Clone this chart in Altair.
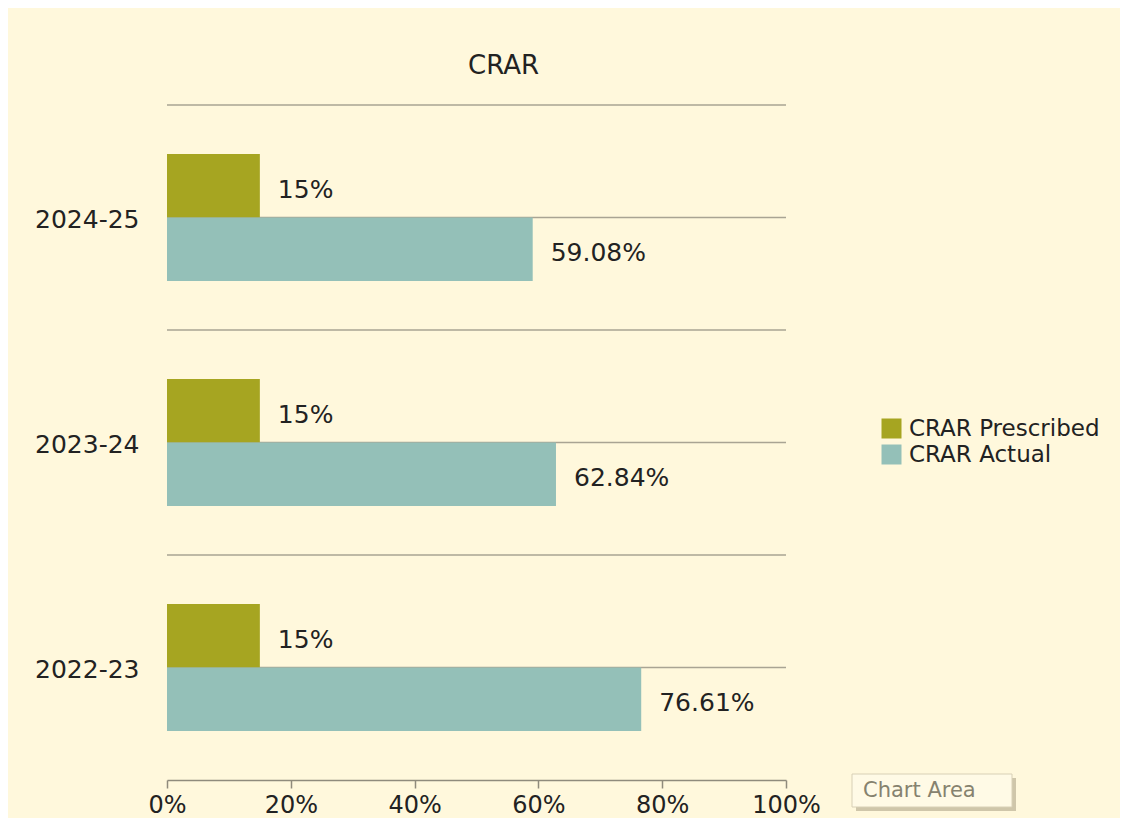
import altair as alt
import pandas as pd

# ---- data ----
years = ["2024-25", "2023-24", "2022-23"]
series = ["CRAR Prescribed", "CRAR Actual"]
prescribed = [15, 15, 15]
actual = [59.08, 62.84, 76.61]
x_ticks = [0, 20, 40, 60, 80, 100]
colors = ["#A6A521", "#94C0B8"]

rows = []
for y, p, a in zip(years, prescribed, actual):
    rows.append({"year": y, "series": series[0], "value": p, "label": f"{p:g}%"})
    rows.append({"year": y, "series": series[1], "value": a, "label": f"{a:g}%"})
df = pd.DataFrame(rows)
grid_df = pd.DataFrame({"year": years})

FONT = "DejaVu Sans"
FS = 25
GRID = "#A9A493"
BG = "#FFF8DC"
TXT = "#222222"

y_enc = alt.Y("year:N", sort=years, title=None,
              scale=alt.Scale(paddingInner=0, paddingOuter=0),
              axis=alt.Axis(domain=False, ticks=False, labelPadding=28,
                            labelFontSize=FS, labelColor=TXT,
                            labelFont=FONT, labelBaseline="middle", labelOffset=2))
yoff = alt.YOffset("series:N", sort=series,
                   scale=alt.Scale(paddingInner=0, paddingOuter=0.772))
x_enc = alt.X("value:Q", title=None,
              scale=alt.Scale(domain=[0, 100], nice=False),
              axis=alt.Axis(values=x_ticks, labelExpr="datum.value + '%'",
                            grid=False, domainColor="#8F8B7C", domainWidth=1.5,
                            tickColor="#8F8B7C", tickWidth=1.5, tickSize=8,
                            labelFlush=False, labelPadding=5, labelFontSize=24,
                            labelColor=TXT, labelFont=FONT))

grid_edges = alt.Chart(grid_df).mark_rule(color=GRID, strokeWidth=1.5).encode(
    y=alt.Y("year:N", sort=years, bandPosition=0)
)
grid_mid = alt.Chart(grid_df).mark_rule(color=GRID, strokeWidth=1.5).encode(
    y=alt.Y("year:N", sort=years, bandPosition=0.5)
)

bars = alt.Chart(df).mark_bar(opacity=1).encode(
    y=y_enc,
    yOffset=yoff,
    x=x_enc,
    color=alt.Color("series:N", sort=series,
                    scale=alt.Scale(domain=series, range=colors),
                    legend=alt.Legend(title=None, orient="none",
                                      legendX=713, legendY=312,
                                      symbolType="square", symbolSize=400,
                                      symbolStrokeWidth=0, labelFontSize=23,
                                      labelFont=FONT, labelColor=TXT,
                                      labelLimit=0,
                                      labelOffset=6, rowPadding=2, padding=0)),
)

labels = alt.Chart(df).mark_text(align="left", baseline="middle", dx=18, dy=4,
                                 fontSize=FS, font=FONT, color=TXT).encode(
    y=alt.Y("year:N", sort=years),
    yOffset=alt.YOffset("series:N", sort=series),
    x="value:Q",
    text="label:N",
)

tip_df = pd.DataFrame({"t": ["Chart Area"]})
tip_shadow = alt.Chart(tip_df).mark_rect(color="#CFC6AA").encode(
    x=alt.value(689), x2=alt.value(849), y=alt.value(673), y2=alt.value(706))
tip_box = alt.Chart(tip_df).mark_rect(fill="#FFFAE6", stroke="#D8D0B6",
                                      strokeWidth=1).encode(
    x=alt.value(685), x2=alt.value(845), y=alt.value(669), y2=alt.value(702))
tip_text = alt.Chart(tip_df).mark_text(align="left", baseline="middle",
                                       fontSize=21, font=FONT,
                                       color="#86826F").encode(
    x=alt.value(696), y=alt.value(686), text="t:N")

chart = alt.layer(grid_edges, grid_mid, bars, labels,
                  tip_shadow, tip_box, tip_text).properties(
    width=619,
    height=675,
    title=alt.Title("CRAR", fontSize=FS + 1, font=FONT, fontWeight="normal",
                    color=TXT, anchor="middle", dx=27, offset=25),
    autosize=alt.AutoSizeParams(type="none"),
    padding={"left": 159, "top": 97, "right": 334, "bottom": 38},
    background=BG,
).configure_view(stroke=None)

chart.save("out.html", embed_options={"renderer": "svg", "actions": False})
